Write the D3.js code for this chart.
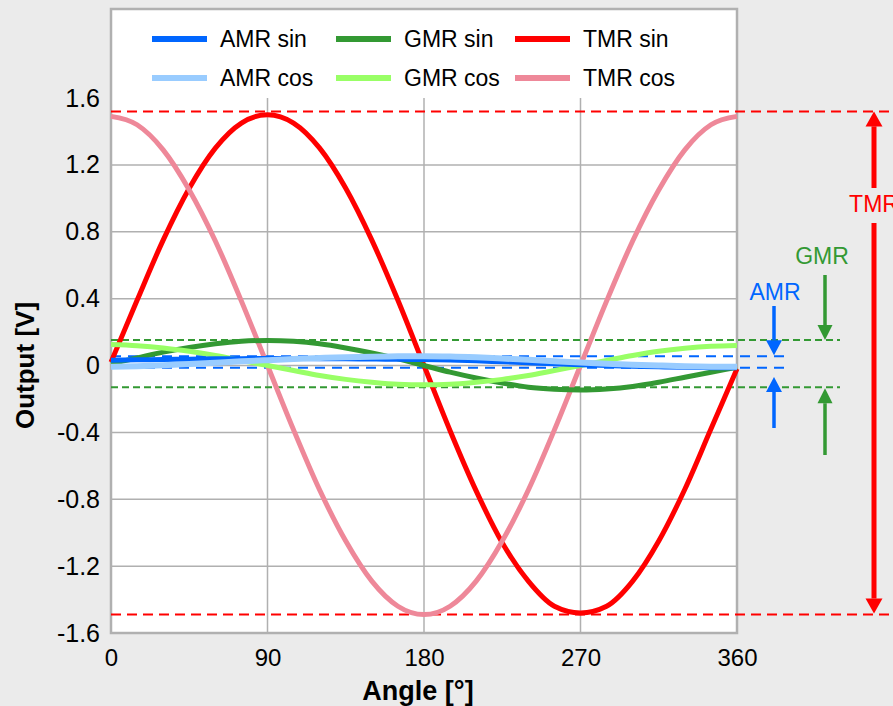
<!DOCTYPE html>
<html>
<head>
<meta charset="utf-8">
<script src="https://cdn.jsdelivr.net/npm/d3@7"></script>
<style>
  body { margin: 0; background: #ebebeb; }
  svg { display: block; font-family: "Liberation Sans", Arial, sans-serif; }
</style>
</head>
<body>
<div class="container"></div>
<script>
let width = 893
let height = 706

// angle [deg] and sensor outputs [V]
let angles = [0, 15, 30, 45, 60, 75, 90, 105, 120, 135, 150, 165, 180, 195, 210, 225, 240, 255, 270, 285, 300, 315, 330, 345, 360]
let amrSin = [0.032, 0.034, 0.036, 0.038, 0.040, 0.041, 0.042, 0.042, 0.041, 0.040, 0.039, 0.037, 0.036, 0.033, 0.028, 0.022, 0.016, 0.010, 0.005, 0.000, -0.004, -0.008, -0.011, -0.013, -0.014]
let amrCos = [-0.008, -0.004, 0.002, 0.009, 0.017, 0.025, 0.032, 0.039, 0.045, 0.050, 0.053, 0.055, 0.056, 0.054, 0.049, 0.042, 0.034, 0.026, 0.018, 0.011, 0.005, 0.000, -0.004, -0.007, -0.008]
let gmrSin = [0.010, 0.045, 0.080, 0.108, 0.130, 0.145, 0.150, 0.145, 0.130, 0.105, 0.075, 0.040, 0.000, -0.040, -0.075, -0.105, -0.130, -0.142, -0.146, -0.140, -0.125, -0.100, -0.070, -0.040, -0.010]
let gmrCos = [0.125, 0.118, 0.105, 0.085, 0.060, 0.030, 0.000, -0.030, -0.060, -0.083, -0.100, -0.112, -0.115, -0.112, -0.100, -0.083, -0.060, -0.030, 0.000, 0.030, 0.060, 0.085, 0.103, 0.115, 0.120]
let tmrSin = [0.02, 0.39, 0.75, 1.06, 1.30, 1.45, 1.50, 1.45, 1.30, 1.06, 0.75, 0.39, 0.00, -0.39, -0.75, -1.06, -1.29, -1.44, -1.48, -1.44, -1.29, -1.05, -0.74, -0.38, -0.02]
let tmrCos = [1.49, 1.44, 1.29, 1.05, 0.745, 0.385, 0.00, -0.385, -0.745, -1.05, -1.29, -1.44, -1.49, -1.44, -1.29, -1.05, -0.745, -0.385, 0.00, 0.385, 0.745, 1.05, 1.29, 1.44, 1.49]

let legendNames = ["AMR sin", "GMR sin", "TMR sin", "AMR cos", "GMR cos", "TMR cos"]
let legendColors = ["#0066ff", "#339933", "#ff0000", "#99ccff", "#99ff66", "#ee8899"]
let xTicks = [0, 90, 180, 270, 360]
let yTicks = [-1.6, -1.2, -0.8, -0.4, 0, 0.4, 0.8, 1.2, 1.6]

// output range markers (top, bottom) per sensor type
let amrLevels = [0.056, -0.014]
let gmrLevels = [0.152, -0.13]
let tmrLevels = [1.52, -1.49]

let plotLeft = 111, plotRight = 737, plotTop = 9, plotBottom = 633

let x = d3.scaleLinear().domain([0, 360]).range([plotLeft, plotRight])
let y = d3.scaleLinear().domain([-1.6, 1.6]).range([plotBottom, 98])

let svg = d3.select(".container")
.append("svg")
.attr("width", width)
.attr("height", height)

svg.append("rect")
.attr("width", width)
.attr("height", height)
.attr("fill", "#ebebeb")

svg.append("rect")
.attr("x", plotLeft)
.attr("y", plotTop)
.attr("width", plotRight - plotLeft)
.attr("height", plotBottom - plotTop)
.attr("fill", "#ffffff")
.attr("stroke", "#b0b0b0")
.attr("stroke-width", 2.5)

// grid
svg.selectAll(".hgrid")
.data(yTicks.filter(function (d) { return d > -1.6 && d < 1.6 }))
.enter()
.append("line")
.attr("class", "hgrid")
.attr("x1", plotLeft)
.attr("x2", plotRight)
.attr("y1", function (d) { return y(d) })
.attr("y2", function (d) { return y(d) })
.attr("stroke", "#b0b0b0")
.attr("stroke-width", 1.5)

svg.selectAll(".vgrid")
.data(xTicks.filter(function (d) { return d > 0 && d < 360 }))
.enter()
.append("line")
.attr("class", "vgrid")
.attr("x1", function (d) { return x(d) })
.attr("x2", function (d) { return x(d) })
.attr("y1", y(1.6))
.attr("y2", y(-1.6))
.attr("stroke", "#b0b0b0")
.attr("stroke-width", 1.5)

// axes
let yAxis = svg.append("g")
.attr("transform", "translate(" + plotLeft + ",0)")
.call(d3.axisLeft(y).tickValues(yTicks).tickSize(0).tickPadding(11)
  .tickFormat(function (d) { return d === 0 ? "0" : d.toFixed(1) }))
let xAxis = svg.append("g")
.attr("transform", "translate(0," + plotBottom + ")")
.call(d3.axisBottom(x).tickValues(xTicks).tickSize(0).tickPadding(16))

svg.selectAll(".domain").remove()
svg.selectAll(".tick text")
.attr("font-family", "Liberation Sans, Arial, sans-serif")
.attr("font-size", "24px")
.attr("fill", "#000")
yAxis.selectAll(".tick text").attr("font-size", "25px")

svg.append("text")
.attr("x", (plotLeft + plotRight) / 2 - 6)
.attr("y", 700)
.attr("text-anchor", "middle")
.attr("font-size", "27px")
.attr("font-weight", "bold")
.text("Angle [°]")

svg.append("text")
.attr("transform", "translate(34," + y(0) + ") rotate(-90)")
.attr("text-anchor", "middle")
.attr("font-size", "26px")
.attr("font-weight", "bold")
.text("Output [V]")

// dashed range lines
function rangeLines(levels, color, x2, dash) {
  svg.selectAll(null)
    .data(levels)
    .enter()
    .append("line")
    .attr("x1", plotLeft)
    .attr("x2", x2)
    .attr("y1", function (d) { return y(d) })
    .attr("y2", function (d) { return y(d) })
    .attr("stroke", color)
    .attr("stroke-width", 2)
    .attr("stroke-dasharray", dash)
}
rangeLines(tmrLevels, "#ff0000", width, "10,6")
rangeLines(gmrLevels, "#339933", 840, "7,4")
rangeLines(amrLevels, "#0066ff", 790, "10,7")

// curves, drawn TMR first so the small signals stay on top
let series = [
  { name: "TMR sin", values: tmrSin },
  { name: "TMR cos", values: tmrCos },
  { name: "GMR sin", values: gmrSin },
  { name: "GMR cos", values: gmrCos },
  { name: "AMR sin", values: amrSin },
  { name: "AMR cos", values: amrCos }
]

let line = d3.line()
.x(function (d, i) { return x(angles[i]) })
.y(function (d) { return y(d) })
.curve(d3.curveMonotoneX)

svg.selectAll(".curve")
.data(series)
.enter()
.append("path")
.attr("class", "curve")
.attr("d", function (d) { return line(d.values) })
.attr("fill", "none")
.attr("stroke", function (d) { return legendColors[legendNames.indexOf(d.name)] })
.attr("stroke-width", function (d) { return d.name === "AMR cos" ? 6 : 5 })

// legend
let legendX = [152, 336, 515]
let legendY = [39, 78]
let legend = svg.selectAll(".legend")
.data(legendNames)
.enter()
.append("g")
.attr("class", "legend")
.attr("transform", function (d, i) { return "translate(" + legendX[i % 3] + "," + legendY[Math.floor(i / 3)] + ")" })

legend.append("line")
.attr("x1", 0)
.attr("x2", 55)
.attr("stroke", function (d, i) { return legendColors[i] })
.attr("stroke-width", 6)

legend.append("text")
.attr("x", 68)
.attr("y", 8)
.attr("font-size", "23px")
.attr("fill", "#000")
.text(function (d) { return d })

// arrows with labels
function arrow(ax, from, tip, color, shaft, half) {
  let dir = tip > from ? 1 : -1
  let base = tip - dir * 15
  svg.append("line")
    .attr("x1", ax).attr("x2", ax)
    .attr("y1", from).attr("y2", base)
    .attr("stroke", color)
    .attr("stroke-width", shaft)
  svg.append("path")
    .attr("d", "M" + ax + "," + tip + "L" + (ax - half) + "," + base + "L" + (ax + half) + "," + base + "Z")
    .attr("fill", color)
}
function label(ax, ty, color, txt) {
  svg.append("text")
    .attr("x", ax)
    .attr("y", ty)
    .attr("text-anchor", "middle")
    .attr("font-size", "23px")
    .attr("fill", color)
    .text(txt)
}

arrow(874, 188, y(tmrLevels[0]), "#ff0000", 5, 8.5)
arrow(874, 223, y(tmrLevels[1]) - 1, "#ff0000", 5, 8.5)
label(874, 212, "#ff0000", "TMR")

arrow(825, 275, y(gmrLevels[0]), "#339933", 3.5, 7.5)
arrow(825, 455, y(gmrLevels[1]) + 1, "#339933", 3.5, 7.5)
label(822, 264, "#339933", "GMR")

arrow(774, 306, y(amrLevels[0]) - 1, "#0066ff", 3.5, 8)
arrow(774, 428, 377, "#0066ff", 3.5, 8)
label(775, 300, "#0066ff", "AMR")
</script>
</body>
</html>
